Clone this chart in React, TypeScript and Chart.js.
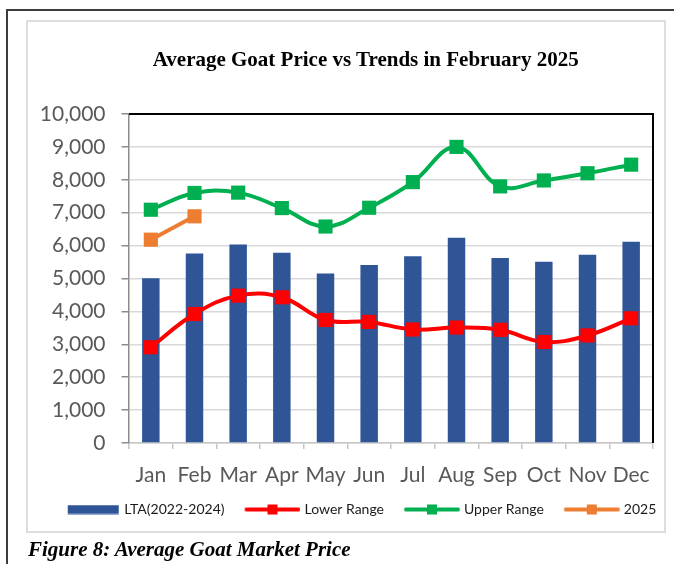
import React, { useEffect, useRef } from "react";
import { Chart, registerables } from "chart.js";

Chart.register(...registerables);

// ---- data ----
const months = ["Jan", "Feb", "Mar", "Apr", "May", "Jun", "Jul", "Aug", "Sep", "Oct", "Nov", "Dec"];
const ltaValues = [5010, 5760, 6030, 5780, 5150, 5410, 5680, 6240, 5620, 5510, 5720, 6120];
const lowerRange = [2910, 3920, 4480, 4430, 3740, 3680, 3450, 3510, 3440, 3070, 3270, 3790];
const upperRange = [7090, 7600, 7610, 7140, 6580, 7150, 7930, 9000, 7800, 7980, 8200, 8460];
const year2025: (number | null)[] = [6180, 6890, null, null, null, null, null, null, null, null, null, null];
const seriesNames = ["LTA(2022-2024)", "Lower Range", "Upper Range", "2025"];
const yMin = 0;
const yMax = 10000;
const yStep = 1000;
const titleText = "Average Goat Price vs Trends in February 2025";
const captionText = "Figure 8: Average Goat Market Price";

// ---- styles ----
const BLUE = "#2F5597";
const RED = "#FF0000";
const GREEN = "#00B050";
const ORANGE = "#ED7D31";
const TICK_COLOR = "#595959";
const SANS = "Lato, 'Liberation Sans', sans-serif";
const SERIF = "'Liberation Serif', 'Times New Roman', serif";

function makeLineIcon(color: string): HTMLCanvasElement {
  const c = document.createElement("canvas");
  c.width = 65;
  c.height = 12;
  const ctx = c.getContext("2d")!;
  ctx.strokeStyle = color;
  ctx.lineWidth = 4;
  ctx.lineCap = "round";
  ctx.beginPath();
  ctx.moveTo(11, 6);
  ctx.lineTo(63, 6);
  ctx.stroke();
  ctx.fillStyle = color;
  ctx.fillRect(32, 1, 10, 10);
  return c;
}

function makeBarIcon(color: string): HTMLCanvasElement {
  const c = document.createElement("canvas");
  c.width = 64;
  c.height = 10;
  const ctx = c.getContext("2d")!;
  ctx.fillStyle = color;
  ctx.fillRect(12, 0.5, 51, 9);
  return c;
}

const plotBorder = {
  id: "plotBorder",
  afterDraw(chart: any) {
    const { ctx, chartArea } = chart;
    ctx.save();
    ctx.strokeStyle = "#000000";
    ctx.lineWidth = 2;
    ctx.beginPath();
    ctx.moveTo(chartArea.left, chartArea.top);
    ctx.lineTo(chartArea.right, chartArea.top);
    ctx.lineTo(chartArea.right, chartArea.bottom);
    ctx.stroke();
    ctx.restore();
  },
};

export default function App() {
  const canvasRef = useRef<HTMLCanvasElement | null>(null);

  useEffect(() => {
    if (!canvasRef.current) return;
    const icons = [makeBarIcon(BLUE), makeLineIcon(RED), makeLineIcon(GREEN), makeLineIcon(ORANGE)];
    const colors = [BLUE, RED, GREEN, ORANGE];

    const lineCommon = {
      type: "line" as const,
      borderWidth: 4,
      tension: 0.4,
      pointStyle: "rect" as const,
      pointRadius: 10,
      pointBorderWidth: 0,
      fill: false,
    };

    const chart = new Chart(canvasRef.current, {
      type: "bar",
      data: {
        labels: months,
        datasets: [
          {
            type: "bar",
            label: seriesNames[0],
            data: ltaValues,
            backgroundColor: BLUE,
            barPercentage: 0.4,
            categoryPercentage: 1,
            order: 10,
          } as any,
          {
            ...lineCommon,
            label: seriesNames[1],
            data: lowerRange,
            borderColor: RED,
            backgroundColor: RED,
            pointBackgroundColor: RED,
            order: 2,
          },
          {
            ...lineCommon,
            label: seriesNames[2],
            data: upperRange,
            borderColor: GREEN,
            backgroundColor: GREEN,
            pointBackgroundColor: GREEN,
            order: 1,
          },
          {
            ...lineCommon,
            label: seriesNames[3],
            data: year2025,
            borderColor: ORANGE,
            backgroundColor: ORANGE,
            pointBackgroundColor: ORANGE,
            tension: 0,
            order: 0,
          },
        ],
      },
      options: {
        responsive: false,
        animation: false,
        devicePixelRatio: 1,
        layout: { padding: { left: 30, right: 15.5, top: 114, bottom: 37.5 } },
        plugins: {
          title: { display: false },
          legend: {
            display: true,
            position: "bottom",
            align: "center",
            labels: {
              usePointStyle: true,
              pointStyleWidth: 59,
              padding: 14,
              color: "#1a1a1a",
              font: { family: SANS, size: 14 },
              generateLabels: () =>
                seriesNames.map((name, i) => ({
                  text: name,
                  pointStyle: icons[i] as any,
                  fillStyle: colors[i],
                  strokeStyle: colors[i],
                  lineWidth: 0,
                  hidden: false,
                  datasetIndex: i,
                  fontColor: "#1a1a1a",
                })),
            },
          },
          tooltip: { enabled: false },
        },
        scales: {
          x: {
            afterFit: (scale: any) => {
              scale.height = 45.5;
            },
            grid: {
              display: true,
              drawOnChartArea: false,
              drawTicks: true,
              tickLength: 6,
              color: "#c6c6c6",
              lineWidth: 1.5,
              offset: true,
            },
            border: { display: true, color: "#c6c6c6", width: 1.5 },
            ticks: {
              color: TICK_COLOR,
              padding: 14,
              maxRotation: 0,
              minRotation: 0,
              autoSkip: false,
              font: { family: SANS, size: 21 },
            },
          },
          y: {
            min: yMin,
            max: yMax,
            afterFit: (scale: any) => {
              scale.width = 99;
            },
            grid: {
              color: "#d9d9d9",
              lineWidth: 1.5,
              tickLength: 7.5,
              tickColor: "#8c8c8c",
              tickWidth: 1.5,
            },
            border: { display: true, color: "#8c8c8c", width: 1.5 },
            ticks: {
              stepSize: yStep,
              color: TICK_COLOR,
              padding: 16,
              font: { family: SANS, size: 21 },
              callback: (v: any) => Number(v).toLocaleString("en-US"),
            },
          },
          y2: {
            type: "linear",
            position: "right",
            display: true,
            afterFit: (scale: any) => {
              scale.width = 31.5;
            },
            grid: { display: false, drawTicks: false },
            border: { display: false },
            ticks: { display: false },
          },
        },
      },
      plugins: [plotBorder],
    });

    return () => chart.destroy();
  }, []);

  return (
    <div
      style={{
        position: "absolute",
        left: 0,
        top: 0,
        width: 674,
        height: 564,
        overflow: "hidden",
        background: "#ffffff",
      }}
    >
      <div
        style={{
          position: "absolute",
          left: 6,
          top: 9,
          width: 668,
          height: 555,
          boxSizing: "border-box",
          borderLeft: "2px solid #3c3c3c",
          borderTop: "2px solid #3c3c3c",
        }}
      />
      <div
        style={{
          position: "absolute",
          left: 26,
          top: 20,
          width: 640,
          height: 513,
          boxSizing: "border-box",
          border: "2px solid #dddddd",
        }}
      />
      <canvas
        ref={canvasRef}
        width={700}
        height={564}
        style={{ position: "absolute", left: 0, top: 0, width: 700, height: 564 }}
      />
      <div
        style={{
          position: "absolute",
          left: 65.7,
          width: 600,
          top: 49,
          textAlign: "center",
          fontFamily: SERIF,
          fontWeight: "bold",
          fontSize: 21,
          lineHeight: "21px",
          color: "#000000",
          whiteSpace: "nowrap",
        }}
      >
        {titleText}
      </div>
      <div
        style={{
          position: "absolute",
          left: 28,
          top: 539,
          fontFamily: SERIF,
          fontWeight: "bold",
          fontStyle: "italic",
          fontSize: 21,
          lineHeight: "21px",
          color: "#000000",
          whiteSpace: "nowrap",
        }}
      >
        {captionText}
      </div>
    </div>
  );
}
